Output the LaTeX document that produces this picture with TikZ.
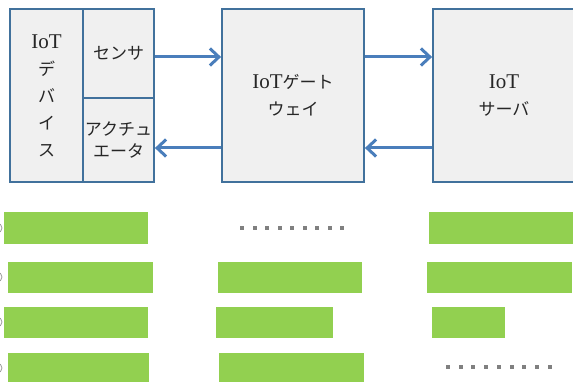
\documentclass[tikz,border=0pt]{standalone}
\usepackage{fontspec}
\setmainfont{Liberation Serif}
\newfontfamily\cjk{Noto Sans CJK JP}
\usetikzlibrary{arrows.meta}
\definecolor{bordc}{HTML}{41719C}
\definecolor{arrc}{HTML}{4A7EBB}
\definecolor{boxfill}{HTML}{F0F0F0}
\definecolor{barc}{HTML}{92D050}
\definecolor{dotc}{HTML}{808080}
\definecolor{txt}{HTML}{262626}
\newcommand{\lat}[1]{{\fontsize{21}{27}\selectfont #1}}
\newcommand{\jp}[1]{{\cjk\fontsize{17}{27}\selectfont #1}}
\tikzset{
  blk/.style={draw=bordc, line width=1.8pt, fill=boxfill, inner sep=0pt, text=txt, align=center},
  ls27/.style={font=\fontsize{16}{27}\selectfont},
  ls22/.style={font=\fontsize{16}{22}\selectfont},
  arr/.style={draw=arrc, line width=3pt, -{Straight Barb[length=9pt,width=17pt]}},
  bar/.style={fill=barc},
  dotsq/.style={fill=dotc},
  edgeglyph/.style={draw=dotc!80, line width=0.8pt}
}
\begin{document}
\begin{tikzpicture}[x=1pt,y=-1pt]
\useasboundingbox (0,0) rectangle (573,382);
% boxes
\node[blk, ls27, minimum width=73pt, minimum height=173pt] (dev) at (46.5,95.5)
  {\lat{IoT}\\\jp{デ}\\\jp{バ}\\\jp{イ}\\\jp{ス}};
\node[blk, ls27, minimum width=71pt, minimum height=89pt] (sen) at (118.5,53.5) {\jp{センサ}};
\node[blk, ls22, minimum width=71pt, minimum height=84pt] (act) at (118.5,140) {\jp{アクチュ}\\\jp{エータ}};
\node[blk, ls27, minimum width=142pt, minimum height=173pt] (gw) at (293,95.5) {\lat{IoT}\jp{ゲート}\\\jp{ウェイ}};
\node[blk, ls27, minimum width=142pt, minimum height=173pt, text width=142pt] (srv) at (504,95.5) {\lat{IoT}\\\jp{サーバ}};
% arrows
\draw[arr] (sen.east |- 0,57) -- (gw.west |- 0,57);
\draw[arr] (gw.east |- 0,57) -- (srv.west |- 0,57);
\draw[arr] (gw.west |- 0,148) -- (act.east |- 0,148);
\draw[arr] (srv.west |- 0,148) -- (gw.east |- 0,148);
% bars column 1
\fill[bar] (4,212) rectangle (148,244);
\fill[bar] (8,262) rectangle (153,293);
\fill[bar] (4,307) rectangle (148,338);
\fill[bar] (8,353) rectangle (149,384);
% bars column 2
\fill[bar] (218,262) rectangle (362,293);
\fill[bar] (216,307) rectangle (333,338);
\fill[bar] (219,353) rectangle (364,384);
% bars column 3
\fill[bar] (429,212) rectangle (576,244);
\fill[bar] (427,262) rectangle (572,293);
\fill[bar] (432,307) rectangle (505,338);
% dots
\foreach \i in {0,...,8} {
  \fill[dotsq] ({242+12.5*\i-2},226) rectangle ++(4,4);
  \fill[dotsq] ({448+12.7*\i-2},365) rectangle ++(4,4);
}
% cut-off glyphs at left edge
\foreach \yy in {228,277,322,368} {
  \draw[edgeglyph] (-3,\yy) circle[radius=5];
}
\end{tikzpicture}
\end{document}
